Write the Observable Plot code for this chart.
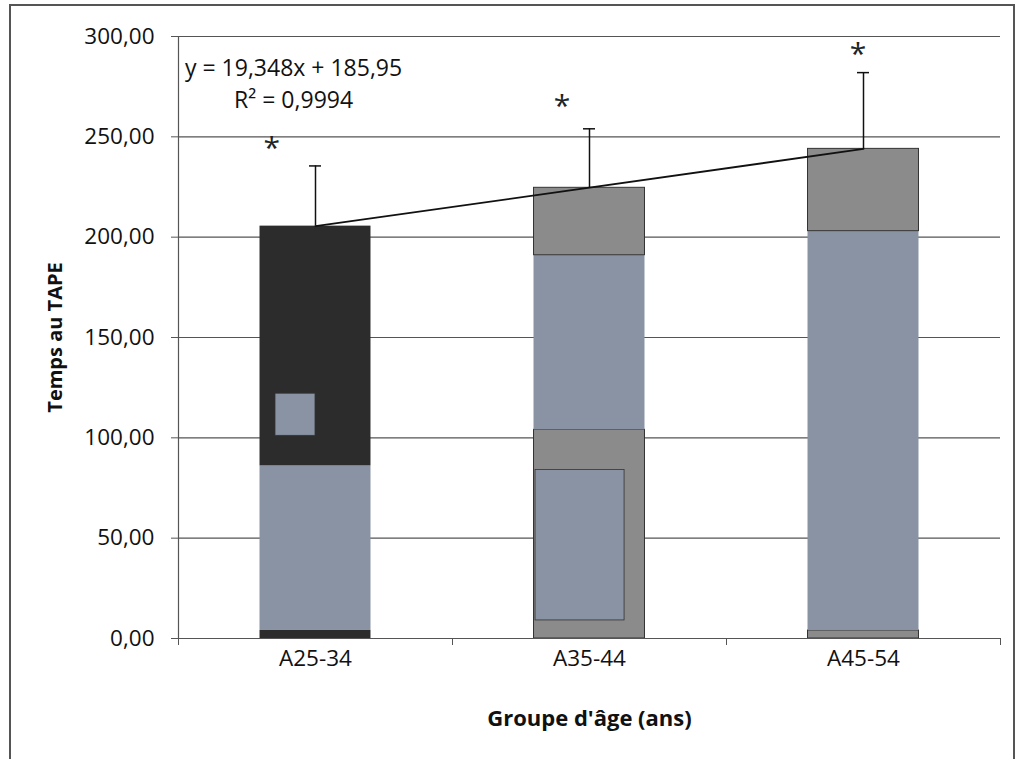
<!DOCTYPE html>
<html>
<head>
<meta charset="utf-8">
<script src="https://cdn.jsdelivr.net/npm/d3@7"></script>
<script src="https://cdn.jsdelivr.net/npm/@observablehq/plot@0.6"></script>
<style>
  html, body { margin: 0; padding: 0; background: #fff; }
  #wrap { position: relative; width: 1025px; height: 759px; overflow: hidden; }
  #border { position: absolute; left: 9px; top: 4px; width: 1006px; height: 800px; border: 2px solid #555; box-sizing: border-box; }
  #chart { position: absolute; left: 0; top: 0; }
</style>
</head>
<body>
<div id="wrap"><div id="border"></div><div id="chart"></div></div>
<script>
// ---- Data ----
const groups = ["A25-34", "A35-44", "A45-54"];
const means = [205.5, 224.6, 244.0];
const errTops = [235.5, 254.0, 282.0];
const yTicks = [0, 50, 100, 150, 200, 250, 300];
const equationLines = ["y = 19,348x + 185,95", "R² = 0,9994"];
const equationY = [284, 268];
const starY = [244, 265, 291];
const starX = [0.84, 1.9, 2.98];

// stacked shading segments inside the bars (as scanned)
const segGroup = [1, 1, 1, 2, 2, 2, 3, 3, 3];
const segLow = [0, 4, 86, 0, 104, 191, 0, 4, 203];
const segHigh = [4, 86, 205.5, 104, 191, 224.6, 4, 203, 244.0];
const segShade = ["dark", "blue", "dark", "gray", "blue", "gray", "gray", "blue", "gray"];
// partial patches
const patchGroup = [1, 2];
const patchLow = [101, 9];
const patchHigh = [122, 84];
const patchFrom = [-0.146, -0.197];
const patchTo = [0, 0.128];

const bars = groups.map((g, i) => ({x: i + 1, group: g, mean: means[i], err: errTops[i]}));
const segs = segGroup.map((g, i) => ({x: g, lo: segLow[i], hi: segHigh[i], shade: segShade[i]}));
const patches = patchGroup.map((g, i) => ({x: g, lo: patchLow[i], hi: patchHigh[i], a: patchFrom[i], b: patchTo[i]}));
const stars = starX.map((x, i) => ({x, y: starY[i]}));
const eq = equationLines.map((t, i) => ({t, y: equationY[i]}));

const shadeColor = {dark: "#2c2c2c", blue: "#8993a3", gray: "#8b8b8b"};
const hw = 0.2025;
const fmt = v => v.toFixed(2).replace(".", ",");

const plot = Plot.plot({
  width: 1025,
  height: 759,
  marginLeft: 178,
  marginRight: 25,
  marginTop: 36,
  marginBottom: 121,
  style: {fontFamily: "'Open Sans', sans-serif", background: "transparent", color: "#111"},
  x: {type: "linear", domain: [0.5, 3.5], axis: null},
  y: {domain: [0, 300], axis: null},
  marks: [
    Plot.ruleY(yTicks, {y: d => d, x1: 0.5, x2: 3.5, stroke: "#555", strokeWidth: 1.2}),
    Plot.axisY(yTicks, {tickSize: 7, tickPadding: 17, tickFormat: fmt, fontSize: 22.5, stroke: "#555", label: null}),
    Plot.rect(segs, {
      x1: d => d.x - hw, x2: d => d.x + hw, y1: "lo", y2: "hi",
      fill: d => shadeColor[d.shade],
      stroke: d => d.shade === "gray" ? "#333" : "none", strokeWidth: 1
    }),
    Plot.rect(patches, {
      x1: d => d.x + d.a, x2: d => d.x + d.b, y1: "lo", y2: "hi",
      fill: shadeColor.blue, stroke: "#333", strokeWidth: 0.8
    }),
    Plot.ruleX([0.5], {stroke: "#555", strokeWidth: 1.2}),
    Plot.ruleY([0], {stroke: "#555", strokeWidth: 1.2}),
    Plot.axisX([0.5, 1.5, 2.5, 3.5], {tickSize: 7, tickFormat: () => "", stroke: "#555", label: null}),
    Plot.axisX([1, 2, 3], {tickSize: 0, tickPadding: 12, tickFormat: d => groups[d - 1], fontSize: 22.5, label: null}),
    Plot.ruleX(bars, {x: "x", y1: "mean", y2: "err", stroke: "#111", strokeWidth: 1.5}),
    Plot.ruleY(bars, {y: "err", x1: d => d.x - 0.022, x2: d => d.x + 0.022, stroke: "#111", strokeWidth: 1.5}),
    Plot.linearRegressionY(bars, {x: "x", y: "mean", ci: 0, stroke: "#111", strokeWidth: 1.8}),
    Plot.text(stars, {x: "x", y: "y", text: () => "*", fontSize: 30, fill: "#222"}),
    Plot.text(eq, {x: 0.92, y: "y", text: "t", fontSize: 23, fill: "#111"}),
    Plot.text(["Temps au TAPE"], {x: 0.05, y: 150, rotate: -90, fontSize: 20, fontWeight: "bold", fill: "#111"}),
    Plot.text(["Groupe d'âge (ans)"], {x: 2, y: 0, dy: 80, fontSize: 22, fontWeight: "bold", fill: "#111"})
  ]
});
document.getElementById("chart").appendChild(plot);
</script>
</body>
</html>
